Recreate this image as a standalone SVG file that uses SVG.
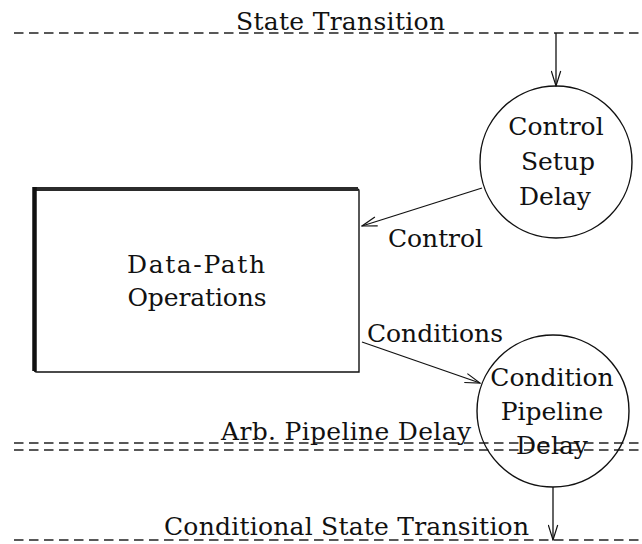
<svg xmlns="http://www.w3.org/2000/svg" width="642" height="544" viewBox="0 0 642 544">
  <style>
    .txt { font-family: "DejaVu Serif", "Liberation Serif", serif; font-size: 25px; fill: #111; }
    .mid { text-anchor: middle; }
    .dash { stroke: #222; stroke-width: 1.3; stroke-dasharray: 9.5 5.5; fill: none; }
    .edge { stroke: #111; stroke-width: 1.3; fill: none; }
    .node { stroke: #111; stroke-width: 1.4; fill: none; }
  </style>
  <defs>
    <marker id="vhead" viewBox="0 0 17 11" refX="16" refY="5.5" markerWidth="17" markerHeight="11" markerUnits="userSpaceOnUse" orient="auto">
      <path d="M1,0.8 L16,5.5 L1,10.2" fill="none" stroke="#111" stroke-width="1.2"/>
    </marker>
  </defs>
  <rect width="642" height="544" fill="#ffffff"/>

  <!-- timing levels -->
  <g id="state-transition">
    <line class="dash" x1="14" y1="33" x2="642" y2="33"/>
    <text class="txt" x="236" y="30" textLength="209" lengthAdjust="spacing">State Transition</text>
  </g>
  <g id="arb-pipeline-delay">
    <line class="dash" x1="14" y1="443" x2="642" y2="443"/>
    <line class="dash" x1="14" y1="450" x2="642" y2="450"/>
    <text class="txt" x="221" y="440" textLength="250" lengthAdjust="spacing">Arb. Pipeline Delay</text>
  </g>
  <g id="conditional-state-transition">
    <line class="dash" x1="14" y1="540" x2="642" y2="540"/>
    <text class="txt" x="164" y="535" textLength="365" lengthAdjust="spacing">Conditional State Transition</text>
  </g>

  <!-- nodes -->
  <g id="control-setup-delay">
    <circle class="node" cx="556" cy="162" r="76"/>
    <text class="txt mid" x="556" y="135">Control</text>
    <text class="txt mid" x="558" y="170">Setup</text>
    <text class="txt mid" x="555" y="205">Delay</text>
  </g>
  <g id="data-path-operations">
    <path d="M34,189 L357,189 Q359,189 359,191 L359,372 L37,372 Q34,372 34,369 Z" fill="none" stroke="#111" stroke-width="1.4"/>
    <line x1="33" y1="189" x2="358" y2="189" stroke="#2b2b2b" stroke-width="4"/>
    <line x1="34.5" y1="187" x2="34.5" y2="371" stroke="#111" stroke-width="4.5"/>
    <text class="txt mid" x="196" y="273" textLength="138" lengthAdjust="spacing">Data-Path</text>
    <text class="txt mid" x="197" y="306" textLength="139" lengthAdjust="spacing">Operations</text>
  </g>
  <g id="condition-pipeline-delay">
    <circle class="node" cx="553" cy="411" r="76"/>
    <text class="txt mid" x="552" y="386">Condition</text>
    <text class="txt mid" x="552" y="420">Pipeline</text>
    <text class="txt mid" x="552" y="454">Delay</text>
  </g>

  <!-- connectors -->
  <g id="connectors">
    <line class="edge" x1="556" y1="33" x2="556" y2="86" marker-end="url(#vhead)"/>
    <line class="edge" x1="482" y1="188" x2="362" y2="226" marker-end="url(#vhead)"/>
    <text class="txt" x="388" y="247" textLength="95" lengthAdjust="spacing">Control</text>
    <line class="edge" x1="362" y1="342" x2="480" y2="383" marker-end="url(#vhead)"/>
    <text class="txt" x="367" y="342" textLength="136" lengthAdjust="spacing">Conditions</text>
    <line class="edge" x1="553" y1="487" x2="553" y2="540" marker-end="url(#vhead)"/>
  </g>
</svg>
